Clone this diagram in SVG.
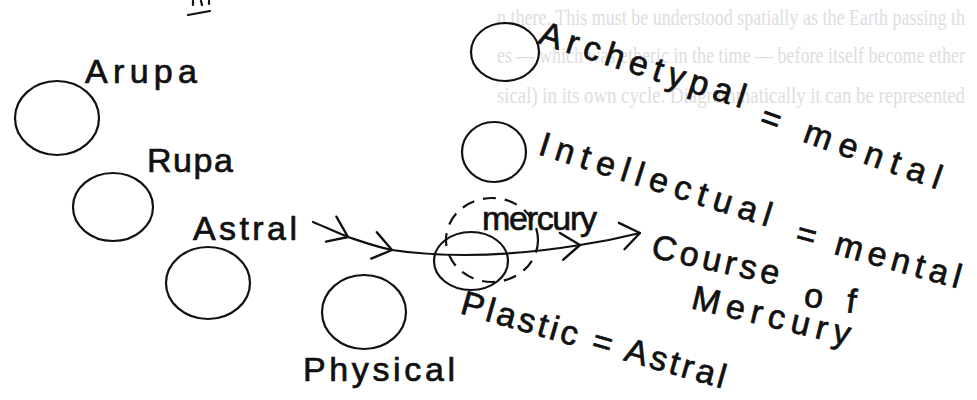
<svg xmlns="http://www.w3.org/2000/svg" width="977" height="400" viewBox="0 0 977 400">
<defs>
<style>
.bg{fill:#ffffff}
.ghost{font-family:"Liberation Serif",serif;font-size:16px;fill:#dedede}
.hand{font-family:"Liberation Sans",Arial,sans-serif;font-size:34px;fill:#111;stroke:#111;stroke-width:0.7}
.ring{fill:none;stroke:#111;stroke-width:2.2}
.dash{fill:none;stroke:#111;stroke-width:2.2;stroke-dasharray:13 9}
.course{fill:none;stroke:#111;stroke-width:2.2;stroke-linecap:round;stroke-linejoin:round}
</style>
<marker id="chev" markerUnits="userSpaceOnUse" markerWidth="44" markerHeight="44" viewBox="-22 -22 44 44" refX="0" refY="0" orient="auto">
<path d="M-18,-15 L0,0 L-19,12" fill="none" stroke="#111" stroke-width="2.4" stroke-linecap="round" stroke-linejoin="round"/>
</marker>
</defs>
<rect class="bg" x="0" y="0" width="977" height="400"/>
<g id="bleed-through">
<text class="ghost" transform="translate(497,25) scale(1,1.5)" textLength="468" lengthAdjust="spacingAndGlyphs">n there. This must be understood spatially as the Earth passing th</text>
<text class="ghost" transform="translate(497,63) scale(1,1.5)" textLength="468" lengthAdjust="spacingAndGlyphs">es — which was etheric in the time — before itself become ether</text>
<text class="ghost" transform="translate(497,103) scale(1,1.5)" textLength="468" lengthAdjust="spacingAndGlyphs">sical) in its own cycle. Diagrammatically it can be represented</text>
</g>
<g id="heading-fragment">
<path class="course" d="M193,1 L193,5 M201,1 L202,5 M209,1 L209,4 M188,15 L210,11"/>
</g>
<g id="connectors">
<path class="course" marker-mid="url(#chev)" marker-end="url(#chev)" d="M313,222 C325,227 336,232 348,237 C363,242 377,247 392,250 C440,257 500,258 580,245 C600,242 620,238 640,233"/>
<text class="hand" transform="translate(650,257) rotate(12.5)" textLength="130">Course</text>
<text class="hand" transform="translate(803,306) rotate(8)" textLength="52">of</text>
<text class="hand" transform="translate(690,308) rotate(13.5)" textLength="162">Mercury</text>
</g>
<g id="arupa">
<ellipse class="ring" cx="57" cy="118" rx="42" ry="37"/>
<text class="hand" x="85" y="83" textLength="112">Arupa</text>
</g>
<g id="rupa">
<ellipse class="ring" cx="113" cy="207" rx="40" ry="34"/>
<text class="hand" x="147" y="172" textLength="86">Rupa</text>
</g>
<g id="astral">
<ellipse class="ring" cx="208" cy="283" rx="42" ry="36"/>
<text class="hand" x="193" y="240" textLength="104">Astral</text>
</g>
<g id="physical">
<ellipse class="ring" cx="364" cy="312" rx="42" ry="37"/>
<text class="hand" x="303" y="381" textLength="152">Physical</text>
</g>
<g id="archetypal">
<ellipse class="ring" cx="505" cy="52" rx="34" ry="29"/>
<text class="hand" transform="translate(537,43) rotate(17.7)" textLength="215">Archetypal</text>
<text class="hand" transform="translate(758,126) rotate(19.5)" textLength="190">= mental</text>
</g>
<g id="intellectual">
<ellipse class="ring" cx="494" cy="152" rx="32" ry="30"/>
<text class="hand" transform="translate(537,154) rotate(17.5)" textLength="242">Intellectual</text>
<text class="hand" transform="translate(794,243) rotate(15.5)" textLength="170">= mental</text>
</g>
<g id="mercury">
<ellipse class="dash" cx="492" cy="240" rx="46" ry="42"/>
<ellipse class="ring" cx="471" cy="261" rx="37" ry="29"/>
<text class="hand" x="482" y="230" font-size="30" textLength="115">mercury</text>
<text class="hand" transform="translate(459,313) rotate(16)" textLength="274">Plastic = Astral</text>
</g>
</svg>
